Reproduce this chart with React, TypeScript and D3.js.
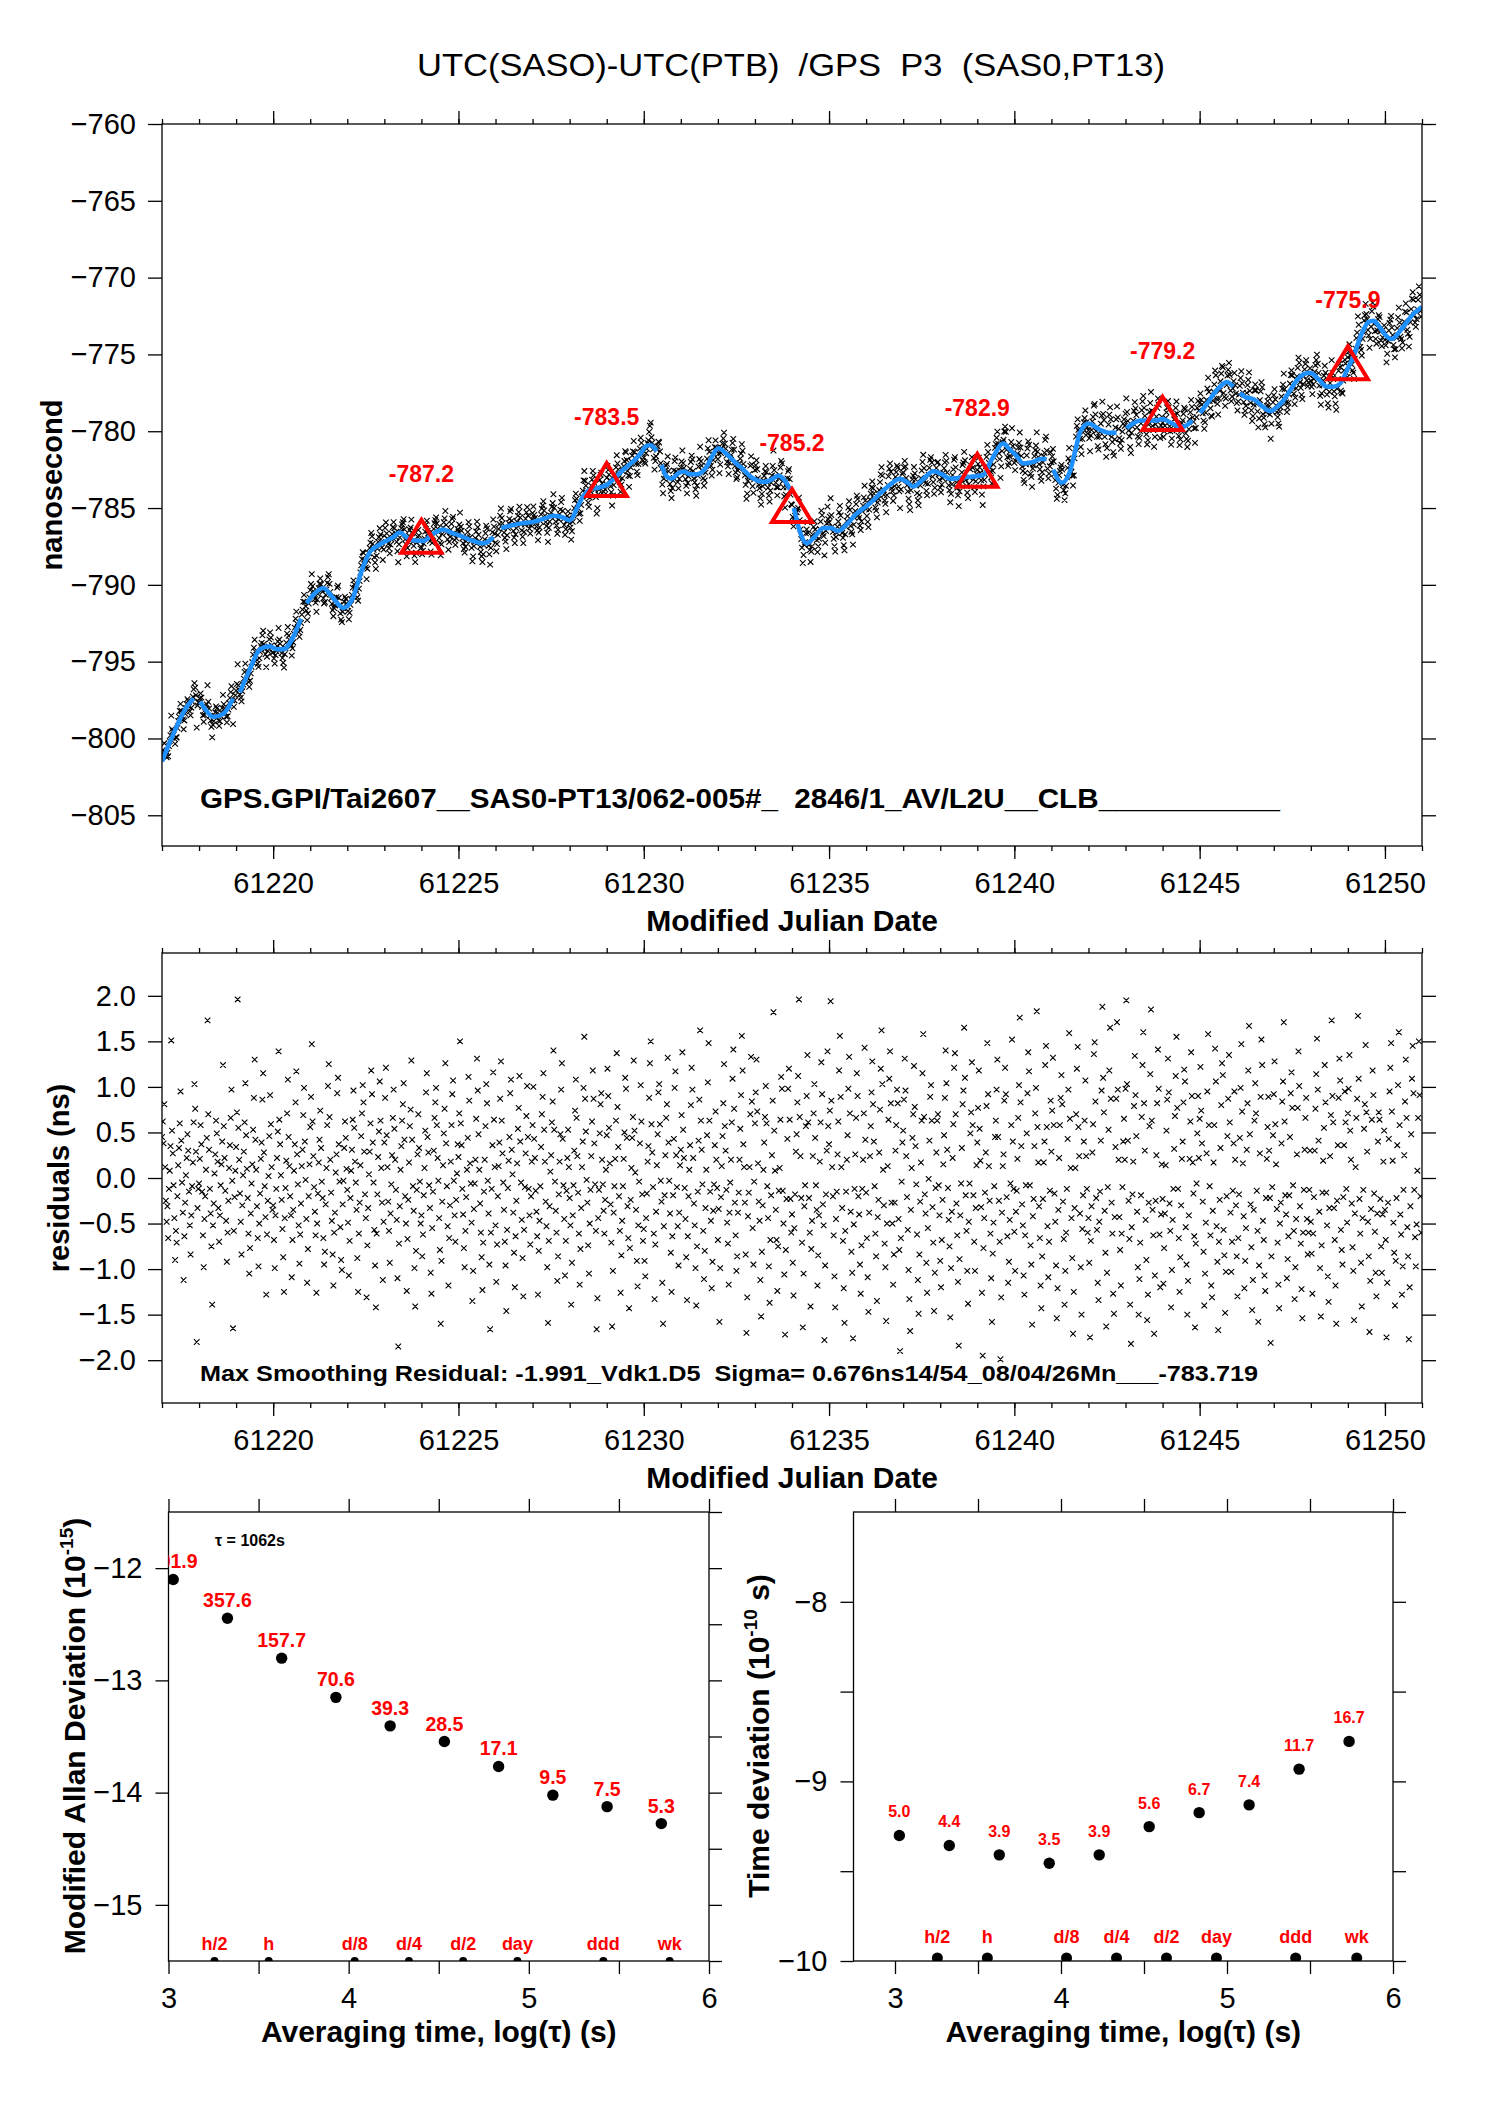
import React, { useRef, useEffect } from 'react';
import * as d3 from 'd3';

const SANS = '"Liberation Sans", Arial, Helvetica, sans-serif';
const NARROW = '"Liberation Sans Narrow", "Arial Narrow", "Liberation Sans", sans-serif';
const RED = '#ff0000';
const BLUE = '#1e90ff';

const chartTitle = 'UTC(SASO)-UTC(PTB)  /GPS  P3  (SAS0,PT13)';
const fileNote = 'GPS.GPI/Tai2607__SAS0-PT13/062-005#_  2846/1_AV/L2U__CLB___________';
const residualNote = 'Max Smoothing Residual: -1.991_Vdk1.D5  Sigma= 0.676ns14/54_08/04/26Mn___-783.719';

// time axes
const mjdDomain = [61217, 61251];
const mjdMajor = [61220, 61225, 61230, 61235, 61240, 61245, 61250];
const nsTicks = [-760, -765, -770, -775, -780, -785, -790, -795, -800, -805];
const residTicks = [2, 1.5, 1, 0.5, 0, -0.5, -1, -1.5, -2];

// smoothed curve (MJD, ns) - null = break in the blue line
const smoothMjd = [
  61217.0, 61217.2, 61217.4, 61217.6, 61217.85, 61217.92, 61218.03, 61218.2, 61218.38, 61218.65, 61218.92, 61218.96,
  61219.1, 61219.37, 61219.64, 61219.91, 61220.1, 61220.27, 61220.54, 61220.75, 61220.86, 61220.9, 61221.1, 61221.35,
  61221.6, 61221.89, 61222.12, 61222.43, 61222.6, 61222.79, 61223.0, 61223.24, 61223.42, 61223.6, 61223.78, 61224.05,
  61224.3, 61224.59, 61224.8, 61225.04, 61225.35, 61225.67, 61225.94, 61225.98, 61226.15, 61226.39, 61226.7, 61227.02,
  61227.3, 61227.56, 61227.8, 61228.01, 61228.2, 61228.37, 61228.55, 61228.82, 61229.0, 61229.2, 61229.45, 61229.7,
  61229.9, 61230.05, 61230.17, 61230.35, 61230.42, 61230.48, 61230.6, 61230.75, 61230.9, 61231.07, 61231.25, 61231.43,
  61231.7, 61231.85, 61232.01, 61232.15, 61232.33, 61232.5, 61232.69, 61232.85, 61233.05, 61233.25, 61233.41, 61233.63,
  61233.8, 61233.95, 61234.0, 61234.05, 61234.13, 61234.25, 61234.4, 61234.6, 61234.85, 61235.05, 61235.25, 61235.5,
  61235.75, 61236.0, 61236.19, 61236.4, 61236.64, 61236.91, 61237.1, 61237.27, 61237.55, 61237.81, 61238.05, 61238.26,
  61238.62, 61238.9, 61239.16, 61239.4, 61239.7, 61239.88, 61240.06, 61240.24, 61240.51, 61240.7, 61240.87, 61240.96,
  61241.05, 61241.28, 61241.5, 61241.65, 61241.77, 61242.0, 61242.31, 61242.55, 61242.76, 61242.9, 61243.03, 61243.2,
  61243.39, 61243.6, 61243.84, 61244.0, 61244.11, 61244.35, 61244.56, 61244.8, 61244.9, 61245.01, 61245.2, 61245.37,
  61245.55, 61245.73, 61245.91, 61246.0, 61246.09, 61246.25, 61246.45, 61246.7, 61246.9, 61247.05, 61247.26, 61247.45,
  61247.62, 61247.8, 61247.98, 61248.2, 61248.43, 61248.6, 61248.79, 61249.0, 61249.15, 61249.3, 61249.42, 61249.55,
  61249.69, 61249.85, 61250.0, 61250.18, 61250.4, 61250.59, 61250.75, 61250.9, 61251.0,
];
const smoothNs = [
  -801.5, -800.3, -799.2, -798.2, -797.4, null, -797.6, -798.2, -798.6, -798.4, -797.4, null,
  -797.0, -795.5, -794.2, -794.0, -794.2, -794.2, -793.4, -792.2, null, -791.2, -790.6, -790.2,
  -790.8, -791.5, -791.0, -788.8, -787.9, -787.5, -787.2, -786.9, -786.6, -786.9, -787.1, -787.15,
  -786.7, -786.4, -786.6, -786.8, -787.1, -787.3, -786.9, null, -786.3, -786.15, -786.0, -785.9,
  -785.7, -785.5, -785.6, -785.8, -785.0, -784.2, -783.8, -783.65, -783.5, -783.1, -782.5, -782.0,
  -781.5, -781.0, -780.9, -781.3, null, -782.2, -782.9, -783.1, -782.8, -782.6, -782.8, -782.8,
  -782.3, -781.6, -781.1, -781.3, -781.7, -782.1, -782.5, -782.9, -783.2, -783.3, -783.2, -782.9,
  -783.2, -783.8, null, -785.0, -785.8, -786.8, -787.3, -786.9, -786.3, -786.3, -786.5, -786.0,
  -785.35, -784.9, -784.5, -784.0, -783.5, -783.1, -783.3, -783.6, -783.1, -782.6, -782.8, -783.1,
  -783.0, -782.95, -782.85, -781.8, -780.8, -781.2, -781.6, -782.1, -782.0, -781.8, -781.8, null,
  -782.5, -783.35, -782.6, -781.2, -780.1, -779.5, -779.9, -780.1, -780.1, null, -779.8, -779.5,
  -779.3, -779.3, -779.3, -779.2, -779.3, -779.6, -779.7, -779.3, null, -778.8, -778.2, -777.6,
  -777.1, -776.8, -777.1, null, -777.5, -777.8, -777.9, -778.4, -778.7, -778.5, -778.0, -777.3,
  -776.7, -776.3, -776.2, -776.6, -777.1, -777.1, -776.9, -775.9, -775.15, -774.1, -773.4, -772.9,
  -772.8, -773.2, -773.7, -774.0, -773.5, -772.9, -772.4, -772.1, -771.9,
];

// values marked with red triangles
const markMjd = [61224, 61229, 61234, 61239, 61244, 61249];
const markNs = [-787.2, -783.5, -785.2, -782.9, -779.2, -775.9];

// residuals from the smoothed curve, hundredths of ns, one row per MJD (61217 ... 61250)
const residStartMjd = 61217;
const residPerDay = 48;
const residRows = [
  '45,62,38,81,12,-25,-48,-31,-66,-12,8,35,151,52,27,-8,-44,-90,-58,-71,-20,14,33,60,95,41,-5,-38,-112,-64,-27,3,22,48,30,-15,-52,-84,-41,-9,17,61,103,76,29,-180,-33,-12',
  '-6,21,58,37,-15,-63,-98,-45,-20,9,44,173,70,31,-12,-39,-75,-139,-52,-28,5,26,63,49,18,-33,-70,-41,-8,15,40,124,57,22,-14,-47,-92,-60,-25,11,36,66,97,-3,-165,-58,-21,8',
  '34,72,196,55,20,-17,-48,-84,-30,3,29,61,104,47,10,-22,-61,-105,-77,-39,-6,15,53,88,130,42,9,-31,-66,-97,-50,-17,21,39,86,115,28,-9,-43,-128,-62,-25,2,46,91,59,12,-35',
  '-30,-68,-99,-41,-12,22,51,139,64,37,3,-24,-56,-87,-125,-44,-11,19,71,108,45,13,-20,-41,-109,-68,-35,8,37,83,117,26,-7,-52,-94,-62,-28,13,31,69,99,40,-2,-45,-115,-78,-20,15',
  '56,89,147,62,24,-10,-37,-63,-126,-50,-17,17,42,74,33,-4,-22,-66,-95,-81,-29,11,58,101,125,67,20,-16,-47,-84,-118,-60,-38,6,26,93,110,37,-4,-54,-90,-101,-29,-3,33,62,44,10',
  '-13,-49,-107,-69,-22,8,31,64,96,55,18,-5,-35,-88,-125,-61,-27,14,46,71,102,83,29,-18,-44,-131,-74,-33,4,29,60,118,92,39,-5,-57,-96,-142,-61,-18,23,51,106,63,11,-27,-112,-48',
  '39,88,121,47,12,-26,-58,-93,-39,-7,25,66,97,54,20,-13,-46,-110,-185,-72,-31,9,35,63,81,104,42,-20,-50,-124,-67,-24,17,57,75,129,42,-9,-36,-99,-141,-80,-13,26,70,33,-4,-50',
  '-41,-86,-62,-19,11,52,94,115,45,28,-8,-33,-104,-127,-55,-15,30,66,83,99,58,22,-3,-44,-79,-160,-91,-26,14,49,76,126,38,-9,-53,-118,-66,-30,18,58,92,107,-3,-41,-70,-24,5,37',
  '23,71,150,60,36,-12,-40,-77,-98,-58,-21,9,44,111,85,16,-6,-49,-135,-102,-34,-6,20,65,131,96,48,9,-28,-60,-87,-123,-71,-15,20,57,103,82,-3,-39,-95,-166,-60,-12,36,116,64,12',
  '-52,-114,-73,-20,13,39,87,128,63,27,-5,-35,-70,-96,-146,-57,-11,19,45,93,108,31,4,-38,-82,-120,-64,-25,16,54,77,112,40,-5,-46,-88,-130,-57,-10,27,68,101,45,-12,-41,-73,-20,18',
  '58,100,43,22,-14,-37,-64,-128,-80,-47,-9,34,70,89,115,53,18,-26,-53,-98,-159,-69,-31,7,25,61,84,140,53,-4,-36,-60,-113,-86,-18,18,48,97,126,43,-8,-45,-107,-69,-14,22,53,12',
  '-22,-52,-139,-93,-41,-8,30,74,108,66,24,-16,-61,-117,-78,-33,12,40,99,155,87,51,-2,-27,-74,-105,-50,-13,24,62,118,87,38,-7,-58,-166,-132,-44,-13,49,81,93,20,-7,-36,-61,-24,9',
  '47,120,90,55,16,-29,-71,-163,-102,-38,-9,21,63,137,78,34,-20,-58,-126,-85,-47,-9,21,50,110,98,44,-31,-66,-143,-77,-24,11,44,67,129,52,6,-35,-91,-119,-52,-4,38,102,62,-18,-69',
  '-56,-91,-108,-44,-17,18,35,88,126,150,59,28,-10,-61,-133,-73,-37,14,48,94,103,59,-3,-26,-115,-160,-53,-19,25,66,81,132,39,-3,-39,-82,-125,-64,-19,43,99,117,25,-10,-53,-96,-38,14',
  '31,69,138,53,22,-11,-45,-87,-134,-64,-20,9,36,80,121,97,22,-28,-52,-99,-140,-75,-15,41,86,162,63,31,-7,-58,-111,-80,-33,9,47,105,148,63,-15,-47,-121,-92,-36,-7,36,73,20,-11',
  '-68,-34,-158,-99,-21,13,46,82,125,57,30,-13,-49,-72,-117,-38,-5,20,61,109,141,76,-27,-63,-102,-86,-38,-16,20,54,91,156,118,37,12,-27,-84,-170,-131,-42,-16,12,70,133,84,-55,-95,-4',
  '60,94,130,73,16,-26,-47,-112,-152,-81,-30,9,39,67,101,60,-9,-44,-97,-137,-68,-19,25,85,182,52,8,-35,-68,-124,-75,-14,11,64,111,98,-14,-50,-106,-172,-79,-23,43,98,120,64,-23,-60',
  '-40,-93,-129,-55,-18,29,48,83,112,196,67,24,-22,-71,-164,-105,-31,-8,57,90,135,61,-22,-60,-141,-78,-47,24,71,103,44,-8,-35,-118,-85,-41,18,61,127,92,-29,-52,-178,-96,-18,30,139,57',
  '37,74,194,85,12,-20,-63,-108,-142,-45,-15,26,62,118,156,89,12,-33,-69,-121,-159,-58,-15,20,47,98,133,71,-37,-81,-104,-176,-51,-12,26,66,115,90,-20,-40,-95,-127,-74,-12,20,71,143,42',
  '-16,-66,-109,-147,-38,24,57,94,128,81,40,-9,-61,-86,-135,-43,-24,28,75,120,162,103,9,-30,-72,-98,-157,-50,13,64,109,139,82,-27,-50,-117,-84,-27,30,58,97,82,-45,-79,-190,-66,-4,39',
  '52,86,131,96,24,-21,-57,-101,-133,-168,-35,11,44,70,123,78,35,-7,-62,-112,-149,-84,-26,17,63,115,158,67,-18,-39,-93,-126,-55,-1,41,89,102,63,-32,-71,-146,-104,-11,28,63,70,-8,-41',
  '-91,-120,-68,-24,15,47,88,140,104,31,-11,-46,-75,-153,-99,-37,22,59,121,137,70,-28,-63,-114,-184,-89,-41,-6,33,81,96,165,110,-19,-58,-102,-138,-48,-6,49,72,127,58,-19,-70,-102,-33,14',
  '39,77,118,54,19,-32,-126,-195,-77,-44,-16,28,79,148,92,13,-25,-61,-110,-158,-83,-49,-9,45,63,97,130,45,-25,-70,-199,-131,-38,13,26,85,121,92,-21,-64,-115,-92,-46,-6,58,152,40,-12',
  '-59,-102,-37,-14,21,66,102,176,83,35,-29,-52,-107,-128,-63,-8,49,93,138,117,-8,-74,-95,-161,-42,-23,35,71,99,183,56,17,-31,-66,-118,-143,-86,-23,17,40,124,145,56,-53,-109,-70,-14,85',
  '29,74,132,58,-17,-48,-96,-154,-121,-35,22,58,88,113,81,-26,-67,-139,-102,-60,-12,43,97,159,65,11,-44,-88,-171,-125,-33,11,70,120,144,56,24,-39,-98,-150,-56,-19,40,63,107,24,-12,-60',
  '-44,-93,-175,-69,-31,28,59,136,149,84,-22,-57,-115,-134,-48,-15,41,96,188,110,72,-36,-82,-163,-104,-10,53,118,165,87,-27,-61,-127,-149,-43,34,87,171,97,20,-43,-79,-118,-61,-10,40,65,20',
  '98,195,103,41,-25,-67,-139,-182,-54,-18,18,79,134,91,46,-37,-98,-150,-111,-71,-19,67,124,160,82,30,-46,-90,-156,-128,-27,57,114,185,63,-35,-63,-171,-107,-25,25,82,141,98,-62,-120,-40,15',
  '-23,-116,-77,-39,14,52,86,131,94,-28,-58,-142,-101,-46,-12,32,68,112,155,77,-12,-66,-125,-87,-30,21,40,83,119,106,-54,-95,-150,-113,-41,21,62,138,90,17,-17,-64,-164,-72,-6,49,90,22',
  '65,122,74,38,-26,-81,-140,-105,-49,27,95,158,58,-9,-63,-118,-131,-36,17,58,142,106,-53,-92,-167,-70,-24,33,80,126,113,-57,-85,-148,-103,-20,46,87,135,61,-38,-103,-70,-14,38,95,20,-30',
  '-86,-130,-66,-18,44,99,147,73,16,-42,-121,-91,-55,31,82,118,167,48,-29,-76,-145,-112,-35,63,104,71,-14,-58,-158,-96,27,89,152,124,-47,-68,-107,-124,-22,21,56,89,30,-22,-181,-86,-10,47',
  '92,128,59,15,-34,-71,-117,-143,-50,-27,38,84,106,171,62,-19,-40,-110,-89,-64,-19,45,93,116,77,-8,-58,-133,-98,-45,26,77,139,101,-31,-72,-122,-154,-60,-13,31,66,88,-45,-84,-60,-13,30',
  '-48,-83,-127,-61,-21,30,76,114,153,97,41,-37,-99,-152,-74,-16,19,55,124,83,-16,-52,-108,-136,-33,24,69,173,90,61,-33,-68,-118,-160,-25,36,88,131,107,-57,-79,-95,-21,36,95,61,-12,-49',
  '71,98,135,52,20,-28,-76,-102,-156,-39,12,66,87,178,109,-23,-61,-93,-141,-44,-13,54,81,146,72,29,-48,-86,-169,-113,-34,64,118,91,-17,-59,-104,-130,-39,40,72,64,-23,-75,-104,-40,18,52',
  '-35,-68,-175,-115,-27,43,95,121,148,73,19,-49,-82,-140,-91,-22,36,102,160,58,-40,-62,-128,-97,-13,25,84,130,66,-54,-86,-177,-120,-31,48,109,145,93,-13,-65,-97,-51,8,66,150,91,-20,-60',
];

// stability panels
const tauSeconds = [1062, 2124, 4248, 8496, 16992, 33984, 67968, 135936, 271872, 543744];
const modAdev = [791.9, 357.6, 157.7, 70.6, 39.3, 28.5, 17.1, 9.5, 7.5, 5.3]; // 1e-15
const tdev = [5.0, 4.4, 3.9, 3.5, 3.9, 5.6, 6.7, 7.4, 11.7, 16.7]; // 1e-10 s
const spanLabels = ['h/2', 'h', 'd/8', 'd/4', 'd/2', 'day', 'ddd', 'wk'];
const spanSeconds = [1800, 3600, 10800, 21600, 43200, 86400, 259200, 604800];
const logTauTicks = [3, 3.5, 4, 4.5, 5, 5.5, 6];

const App: React.FC = () => {
  const svgRef = useRef<SVGSVGElement>(null);

  useEffect(() => {
    if (!svgRef.current) return;
    document.body.style.margin = '0';
    const svg = d3.select(svgRef.current);
    svg.selectAll('*').remove();

    const blank = () => '';
    const styleAxis = (a: any, fs = 29) => {
      a.select('.domain').remove();
      a.selectAll('line').attr('stroke', '#000').attr('stroke-width', 1.3);
      a.selectAll('text').attr('font-family', SANS).attr('font-size', fs).attr('fill', '#000');
    };
    const axis = (gen: any, tx: number, ty: number) => {
      const a = svg.append('g').attr('transform', `translate(${tx},${ty})`).call(gen);
      styleAxis(a);
      return a;
    };
    const frame = (x0: number, y0: number, x1: number, y1: number) =>
      svg.append('rect').attr('x', x0).attr('y', y0).attr('width', x1 - x0).attr('height', y1 - y0)
        .attr('fill', 'none').attr('stroke', '#000').attr('stroke-width', 1.3);
    const clip = (id: string, x0: number, y0: number, x1: number, y1: number) => {
      svg.append('clipPath').attr('id', id).append('rect')
        .attr('x', x0).attr('y', y0).attr('width', x1 - x0).attr('height', y1 - y0);
      return `url(#${id})`;
    };
    const text = (s: string, x: number, y: number, size: number, opts: any = {}) =>
      svg.append('text').attr('x', x).attr('y', y).text(s)
        .attr('font-family', opts.family || SANS).attr('font-size', size)
        .attr('font-weight', opts.weight || 'normal').attr('fill', opts.fill || '#000')
        .attr('text-anchor', opts.anchor || 'start').style('white-space', 'pre');
    const crosses = (pts: [number, number][], s = 2.8) =>
      pts.map(([px, py]) => `M${px - s},${py - s}L${px + s},${py + s}M${px - s},${py + s}L${px + s},${py - s}`).join('');

    // title
    text(chartTitle, 417, 76, 31, { family: NARROW })
      .attr('textLength', 748).attr('lengthAdjust', 'spacingAndGlyphs');

    const x = d3.scaleLinear().domain(mjdDomain).range([162, 1422]);
    const days = d3.range(mjdDomain[0], mjdDomain[1] + 1);

    const timeAxes = (y: any, ticks: number[], fmt: any) => {
      const [yb, yt] = y.range();
      frame(162, yt, 1422, yb);
      axis(d3.axisBottom(x).tickValues(days).tickSize(5).tickFormat(blank), 0, yb);
      axis(d3.axisBottom(x).tickValues(mjdMajor).tickSize(13).tickPadding(13).tickFormat(d3.format('d')), 0, yb);
      axis(d3.axisTop(x).tickValues(days).tickSize(5).tickFormat(blank), 0, yt);
      axis(d3.axisTop(x).tickValues(mjdMajor).tickSize(13).tickFormat(blank), 0, yt);
      axis(d3.axisLeft(y).tickValues(ticks).tickSize(14).tickPadding(12).tickFormat(fmt), 162, 0);
      axis(d3.axisRight(y).tickValues(ticks).tickSize(14).tickFormat(blank), 1422, 0);
      text('Modified Julian Date', 792, yb + 85, 30, { weight: 'bold', anchor: 'middle' });
    };

    // ---------- residual data ----------
    const resid = residRows.flatMap((row, day) =>
      row.split(',').map((s, k) => ({ mjd: residStartMjd + day + k / residPerDay, r: +s / 100 })));

    const knots = smoothMjd.map((m, i) => ({ m, v: smoothNs[i] }));
    const solid = knots.filter(k => k.v !== null);
    const smoothAt = d3.scaleLinear().domain(solid.map(k => k.m)).range(solid.map(k => k.v as number));

    // ---------- top panel ----------
    const yTop = d3.scaleLinear().domain([-807, -760]).range([846, 124]);
    const topClip = clip('clipTop', 162, 124, 1422, 846);
    svg.append('path').attr('clip-path', topClip)
      .attr('d', crosses(resid.map(d => [x(d.mjd), yTop(smoothAt(d.mjd) + d.r)] as [number, number])))
      .attr('stroke', '#000').attr('stroke-width', 1.1).attr('fill', 'none');
    const line = d3.line<any>().defined(d => d.v !== null).x(d => x(d.m)).y(d => yTop(d.v)).curve(d3.curveMonotoneX);
    svg.append('path').attr('clip-path', topClip).attr('d', line(knots))
      .attr('fill', 'none').attr('stroke', BLUE).attr('stroke-width', 4.5).attr('stroke-linejoin', 'round');
    markMjd.forEach((m, i) => {
      const cx = x(m), cy = yTop(markNs[i]);
      svg.append('path').attr('d', `M${cx},${cy - 22}L${cx + 20},${cy + 11}L${cx - 20},${cy + 11}Z`)
        .attr('fill', 'none').attr('stroke', RED).attr('stroke-width', 4).attr('stroke-linejoin', 'miter');
      text(markNs[i].toFixed(1), cx, cy - 60, 23, { weight: 'bold', fill: RED, anchor: 'middle' });
    });
    timeAxes(yTop, nsTicks, d3.format('d'));
    text(fileNote, 200, 808, 28, { weight: 'bold' }).attr('textLength', 1080).attr('lengthAdjust', 'spacingAndGlyphs');
    text('nanosecond', 0, 0, 29, { weight: 'bold', anchor: 'middle' })
      .attr('transform', `translate(62,485) rotate(-90)`);

    // ---------- residual panel ----------
    const yRes = d3.scaleLinear().domain([-2.47, 2.47]).range([1403, 953]);
    const resClip = clip('clipRes', 162, 953, 1422, 1403);
    svg.append('path').attr('clip-path', resClip)
      .attr('d', crosses(resid.map(d => [x(d.mjd), yRes(d.r)] as [number, number])))
      .attr('stroke', '#000').attr('stroke-width', 1.1).attr('fill', 'none');
    timeAxes(yRes, residTicks, d3.format('.1f'));
    text(residualNote, 200, 1381, 22, { weight: 'bold' }).attr('textLength', 1058).attr('lengthAdjust', 'spacingAndGlyphs');
    text('residuals (ns)', 0, 0, 29, { weight: 'bold', anchor: 'middle' })
      .attr('transform', `translate(69,1178) rotate(-90)`);

    // ---------- stability panels ----------
    const sigmaPanel = (cfg: any) => {
      const { xs, ys, vals, exp, id } = cfg;
      const [x0, x1] = xs.range();
      const [yb, yt] = ys.range();
      const cp = clip(id, x0, yt, x1, yb);
      frame(x0, yt, x1, yb);
      axis(d3.axisBottom(xs).tickValues(logTauTicks).tickSize(13).tickPadding(13)
        .tickFormat((d: any) => (Number.isInteger(d) ? d3.format('d')(d) : '')), 0, yb);
      axis(d3.axisTop(xs).tickValues(logTauTicks).tickSize(13).tickFormat(blank), 0, yt);
      axis(d3.axisLeft(ys).tickValues(cfg.leftTicks).tickSize(13).tickPadding(13)
        .tickFormat((d: any) => (Number.isInteger(d) ? d3.format('d')(d) : '')), x0, 0);
      axis(d3.axisRight(ys).tickValues(cfg.rightTicks).tickSize(13).tickFormat(blank), x1, 0);

      const g = svg.append('g').attr('clip-path', cp);
      tauSeconds.forEach((t, i) => {
        const px = xs(Math.log10(t)), py = ys(Math.log10(vals[i]) + exp);
        g.append('circle').attr('cx', px).attr('cy', py).attr('r', 5.7).attr('fill', '#000');
        g.append('text').attr('x', px).attr('y', py - cfg.labelLift).text(d3.format('.1f')(vals[i]))
          .attr('font-family', SANS).attr('font-size', cfg.labelSize).attr('font-weight', 'bold')
          .attr('fill', RED).attr('text-anchor', 'middle');
      });
      spanSeconds.forEach((s, i) => {
        const px = xs(Math.log10(s));
        g.append('circle').attr('cx', px).attr('cy', yb - cfg.dotLift).attr('r', cfg.dotR).attr('fill', '#000');
        text(spanLabels[i], px, yb - cfg.spanLift, 18, { weight: 'bold', fill: RED, anchor: 'middle' });
      });
      text('Averaging time, log(', (x0 + x1) / 2, 2042, 30, { weight: 'bold', anchor: 'middle' })
        .call((t: any) => {
          t.append('tspan').text('τ');
          t.append('tspan').text(') (s)');
        });
    };

    const xsL = d3.scaleLinear().domain([3, 6]).range([168.5, 709]);
    const ysL = d3.scaleLinear().domain([-15.5, -11.5]).range([1961, 1512]);
    sigmaPanel({
      id: 'clipAdev', xs: xsL, ys: ysL, vals: modAdev, exp: -15,
      leftTicks: [-12, -13, -14, -15], rightTicks: [-11.5, -12, -12.5, -13, -13.5, -14, -14.5, -15, -15.5],
      labelSize: 19.5, labelLift: 11, dotR: 4, dotLift: 0, spanLift: 11,
    });
    text(`τ = ${tauSeconds[0]}s`, 215, 1546, 16, { weight: 'bold' });
    const adevTitle = text('Modified Allan Deviation (10', 0, 0, 30, { weight: 'bold', anchor: 'middle' })
      .attr('transform', 'translate(85,1736) rotate(-90)');
    adevTitle.append('tspan').attr('dy', -12).attr('font-size', 19).text('-15');
    adevTitle.append('tspan').attr('dy', 12).text(')');

    const xsR = d3.scaleLinear().domain([2.75, 6]).range([853.5, 1393]);
    const ysR = d3.scaleLinear().domain([-10, -7.5]).range([1961, 1512]);
    sigmaPanel({
      id: 'clipTdev', xs: xsR, ys: ysR, vals: tdev, exp: -10,
      leftTicks: [-8, -8.5, -9, -9.5, -10], rightTicks: [-7.5, -8, -8.5, -9, -9.5, -10],
      labelSize: 16, labelLift: 18, dotR: 5.5, dotLift: 3, spanLift: 18,
    });
    const tdevTitle = text('Time deviation (10', 0, 0, 30, { weight: 'bold', anchor: 'middle' })
      .attr('transform', 'translate(769,1736) rotate(-90)');
    tdevTitle.append('tspan').attr('dy', -12).attr('font-size', 19).text('-10');
    tdevTitle.append('tspan').attr('dy', 12).text(' s)');
  }, []);

  return <svg ref={svgRef} width={1488} height={2105} style={{ display: 'block', background: '#fff' }} />;
};

export default App;
